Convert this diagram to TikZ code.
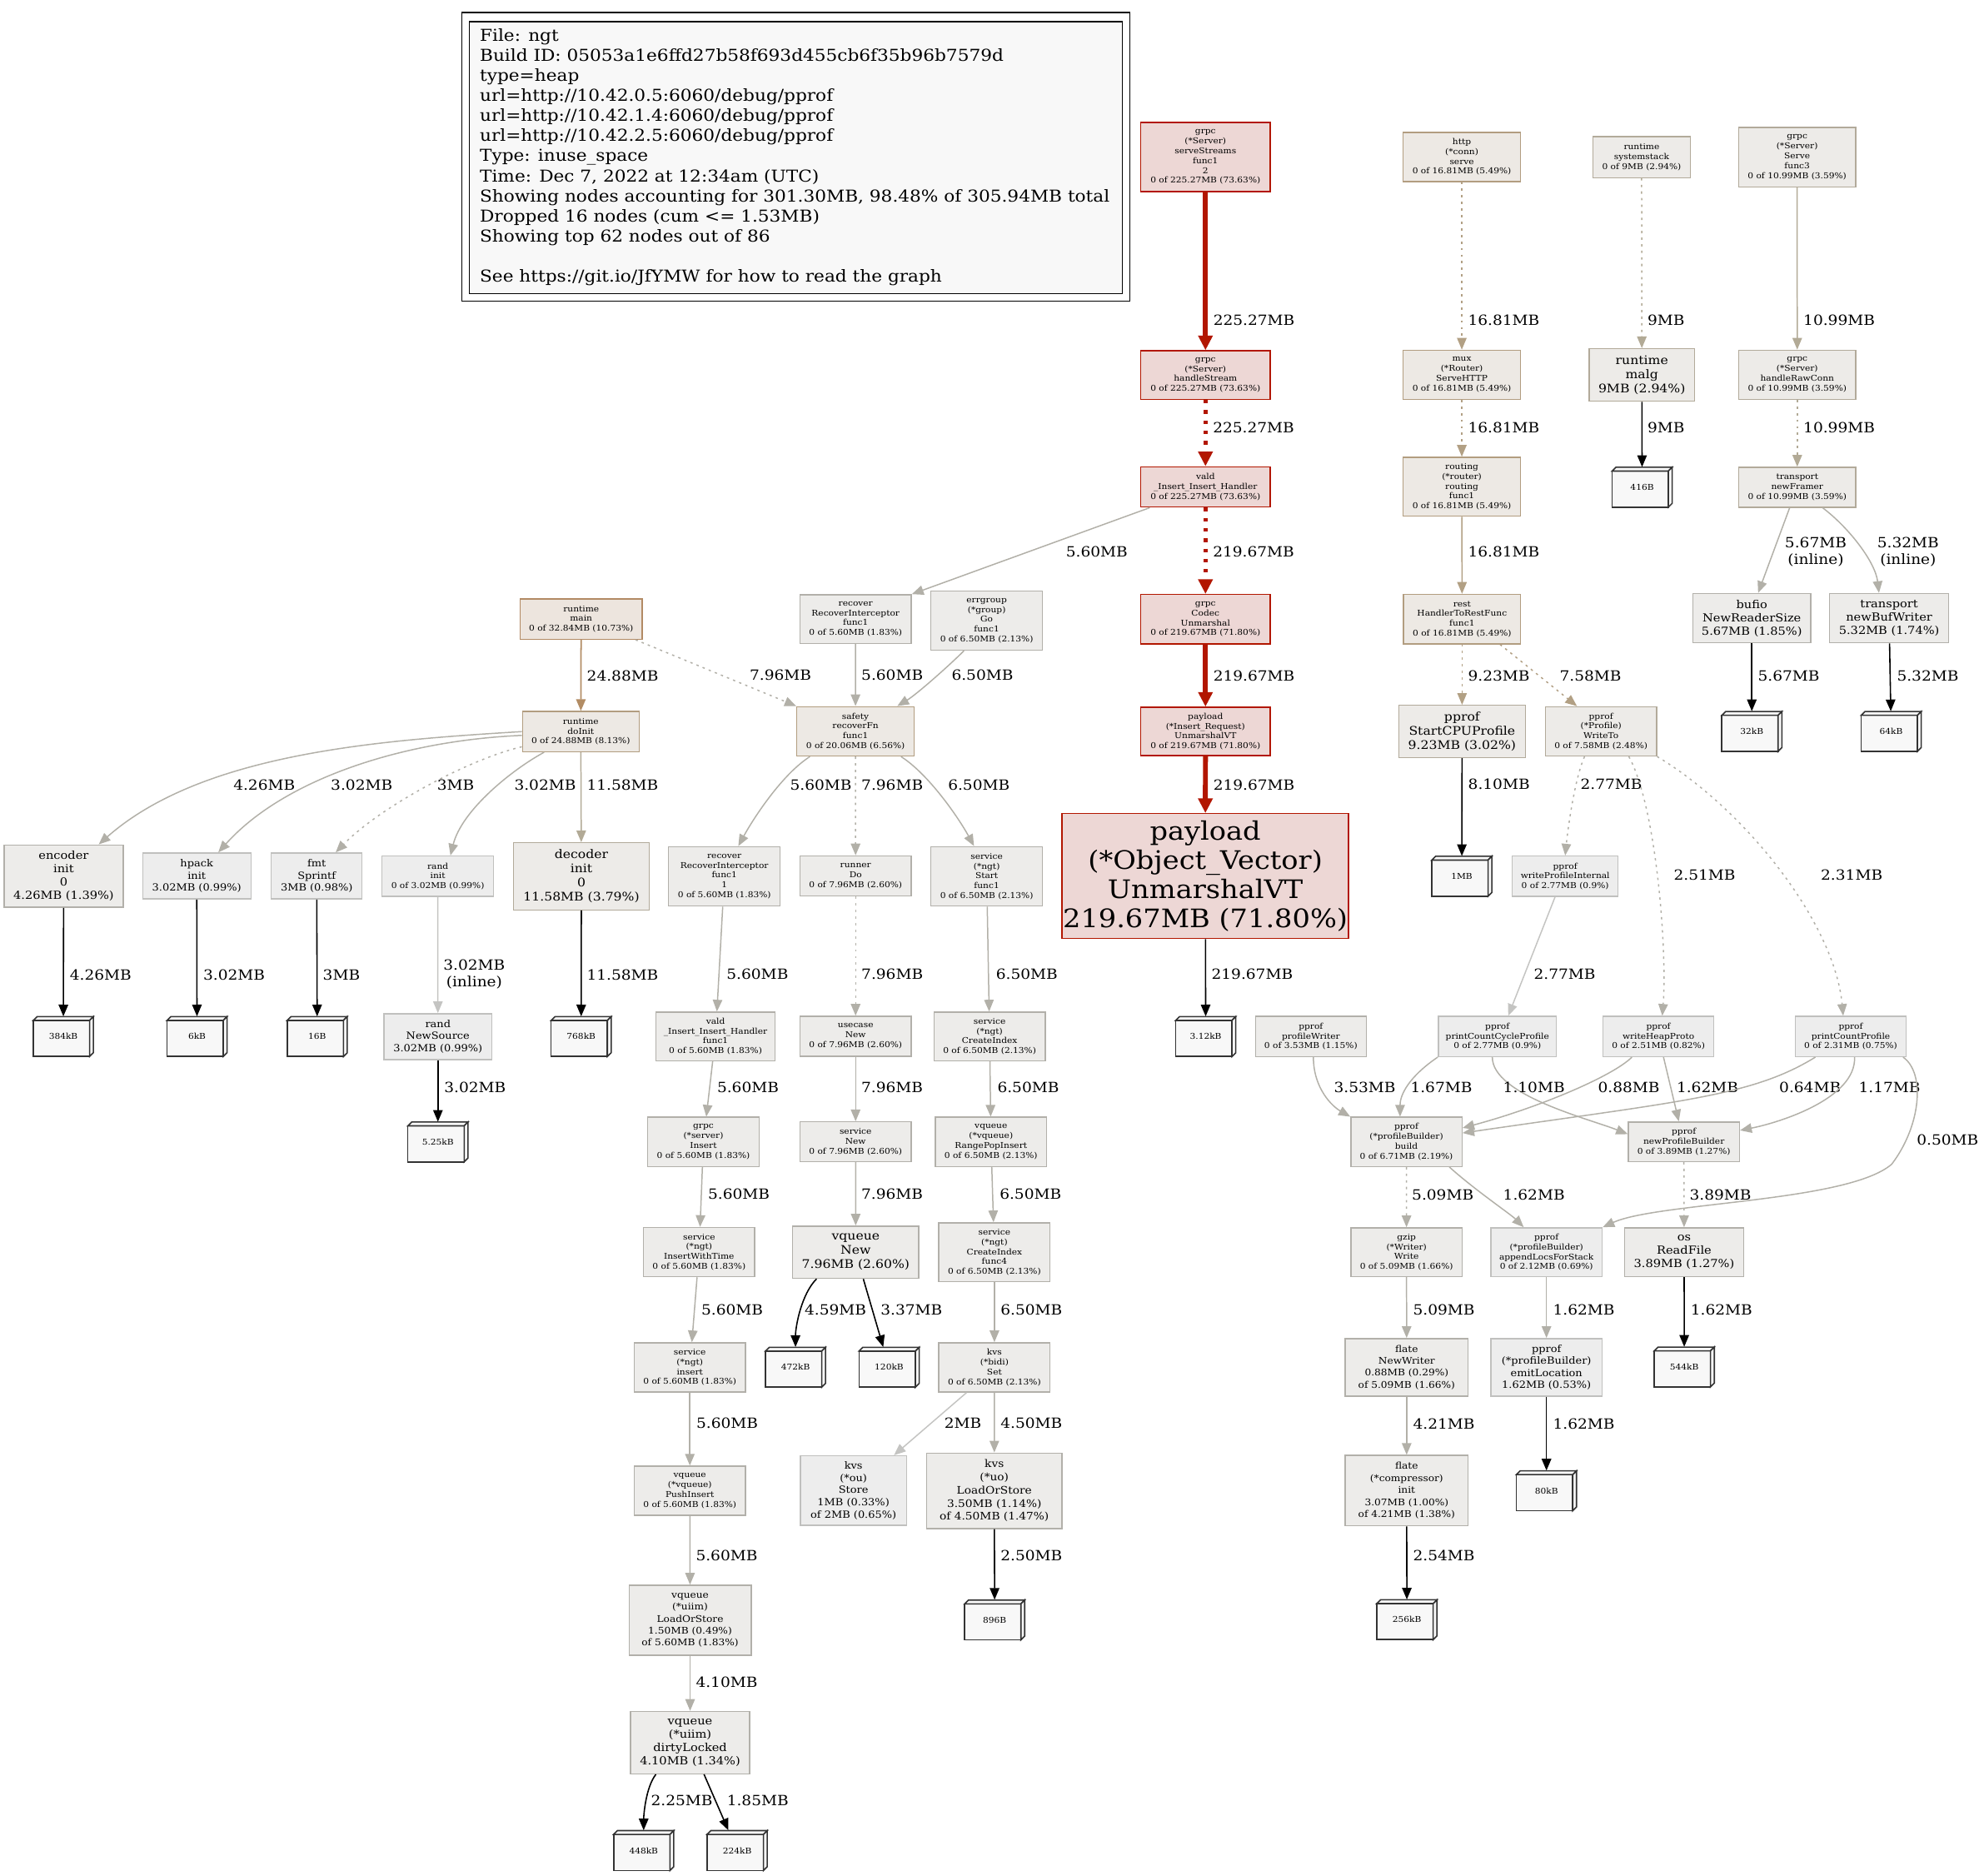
\documentclass[tikz,border=0pt]{standalone}
\usepackage{fontspec}
\setmainfont{DejaVu Serif}[FakeStretch=1.1]
\usepackage{xcolor}
\usepackage{tikz}
\usetikzlibrary{arrows.meta}
\definecolor{hotred}{RGB}{178,22,0}
\definecolor{hotfill}{RGB}{237,215,213}
\definecolor{tanA}{RGB}{178,138,100}
\definecolor{fillA}{RGB}{237,229,222}
\definecolor{tanB}{RGB}{178,157,128}
\definecolor{fillB}{RGB}{237,233,228}
\definecolor{tanC}{RGB}{178,170,154}
\definecolor{fillC}{RGB}{237,235,232}
\definecolor{grayA}{RGB}{178,176,170}
\definecolor{fillD}{RGB}{237,236,234}
\definecolor{grayB}{RGB}{192,192,190}
\definecolor{fillE}{RGB}{237,237,237}
\definecolor{etanA}{RGB}{178,140,100}
\definecolor{etanB}{RGB}{178,160,132}
\definecolor{etanC}{RGB}{178,170,150}
\definecolor{egray}{RGB}{178,176,168}
\definecolor{elight}{RGB}{196,196,194}
\definecolor{cubefill}{RGB}{248,248,248}
\definecolor{legfill}{RGB}{248,248,248}
\newlength{\gpx}
\setlength{\gpx}{0.3038mm}

\begin{document}
\begin{tikzpicture}[x=0.3038mm, y=-0.3038mm,
    fn/.style={rectangle, draw, line width=0.8pt, inner sep=0pt, align=center},
    hot/.style={fn, draw=hotred, fill=hotfill},
    tana/.style={fn, draw=tanA, fill=fillA},
    tanb/.style={fn, draw=tanB, fill=fillB},
    tanc/.style={fn, draw=tanC, fill=fillC},
    gry/.style={fn, draw=grayA, fill=fillD},
    lgt/.style={fn, draw=grayB, fill=fillE},
    sz/.style 2 args={minimum width=#1\gpx, minimum height=#2\gpx},
    f0/.style={font=\fontsize{5.5}{6.7}\selectfont},
    f1/.style={font=\fontsize{6.3}{8.2}\selectfont},
    f2/.style={font=\fontsize{6.7}{8.3}\selectfont},
    f3/.style={font=\fontsize{7.1}{9}\selectfont},
    f4/.style={font=\fontsize{7.55}{9.1}\selectfont},
    f5/.style={font=\fontsize{8.1}{9.7}\selectfont},
    f6/.style={font=\fontsize{17.4}{19.9}\selectfont},
    cubebox/.style={rectangle, inner sep=0pt, minimum width=47.5\gpx, minimum height=31.5\gpx, font=\fontsize{5.5}{6.5}\selectfont},
    cubeline/.style={draw=black!80, fill=cubefill, line width=0.9pt},
    legbox/.style={rectangle, draw=black, line width=0.9pt, inner sep=0pt},
    legtext/.style={font=\fontsize{11.2}{13.7}\selectfont, align=left, inner sep=0pt},
    lbl/.style={font=\fontsize{9.6}{11.6}\selectfont, anchor=west, inner sep=0pt},
    lbl2/.style={font=\fontsize{9.6}{11.6}\selectfont, anchor=center, align=center, inner sep=0pt},
    arr/.style={-{Triangle[length=8pt,width=6.5pt]}},
    hotline/.style={draw=hotred, line width=3.4pt, -{Triangle[length=10pt,width=9.5pt]}},
    hotdots/.style={hotline, line width=2.8pt, dash pattern=on 2.4pt off 4.6pt},
    mainline/.style={arr, draw=etanA, line width=1pt},
    tanline/.style={arr, draw=etanB, line width=0.85pt},
    tanpale/.style={arr, draw=etanC, line width=0.85pt},
    grayline/.style={arr, draw=egray, line width=0.85pt},
    paleline/.style={arr, draw=elight, line width=0.85pt},
    alloc/.style={arr, draw=black, line width=0.9pt},
    dotline/.style={dash pattern=on 1.6pt off 2.9pt}
]
\useasboundingbox (0,0) rectangle (1568,1482);

% Legend
\node[legbox, minimum width=528\gpx, minimum height=228\gpx] (legOuter) at (629,124) {};
\node[legbox, fill=legfill, minimum width=516\gpx, minimum height=215\gpx] (legInner) at (629,124.5) {};
\node[legtext, anchor=north west] (legText) at (379,22.5) {File: ngt\\
Build ID: 05053a1e6ffd27b58f693d455cb6f35b96b7579d\\
type=heap\\
url=http://10.42.0.5:6060/debug/pprof\\
url=http://10.42.1.4:6060/debug/pprof\\
url=http://10.42.2.5:6060/debug/pprof\\
Type: inuse\_space\\
Time: Dec 7, 2022 at 12:34am (UTC)\\
Showing nodes accounting for 301.30MB, 98.48\% of 305.94MB total\\
Dropped 16 nodes (cum <= 1.53MB)\\
Showing top 62 nodes out of 86\\[13.7pt]
See https://git.io/JfYMW for how to read the graph};

% Hot path
\node[hot, f0, sz={102.4}{54.7}] (sStreams) at (952.7,124.1) {grpc\\(*Server)\\serveStreams\\func1\\2\\0 of 225.27MB (73.63\%)};
\node[hot, f0, sz={102.4}{38.4}] (hStream) at (952.7,296.4) {grpc\\(*Server)\\handleStream\\0 of 225.27MB (73.63\%)};
\node[hot, f0, sz={102.4}{31.8}] (insHandler) at (952.7,384.8) {vald\\\_Insert\_Insert\_Handler\\0 of 225.27MB (73.63\%)};
\node[hot, f0, sz={102.4}{39}] (codec) at (952.7,489.3) {grpc\\Codec\\Unmarshal\\0 of 219.67MB (71.80\%)};
\node[hot, f0, sz={102.4}{38.2}] (reqVT) at (952.7,578) {payload\\(*Insert\_Request)\\UnmarshalVT\\0 of 219.67MB (71.80\%)};
\node[hot, f6, sz={226.4}{98.7}] (vecVT) at (952.6,692.3) {payload\\(*Object\_Vector)\\UnmarshalVT\\219.67MB (71.80\%)};

% Top right
\node[tanb, f0, sz={93}{38.8}] (httpServe) at (1155.3,124) {http\\(*conn)\\serve\\0 of 16.81MB (5.49\%)};
\node[tanc, f0, sz={76.7}{32.3}] (sysStack) at (1297.4,124.2) {runtime\\systemstack\\0 of 9MB (2.94\%)};
\node[tanc, f0, sz={92.7}{46.8}] (srvServe) at (1420.3,124.2) {grpc\\(*Server)\\Serve\\func3\\0 of 10.99MB (3.59\%)};
\node[tanb, f0, sz={93}{38.7}] (muxServe) at (1155.3,296.1) {mux\\(*Router)\\ServeHTTP\\0 of 16.81MB (5.49\%)};
\node[tanc, f5, sz={83.5}{41.4}] (malg) at (1297.6,296.3) {runtime\\malg\\9MB (2.94\%)};
\node[tanc, f0, sz={92.6}{38.7}] (rawConn) at (1420.4,296.1) {grpc\\(*Server)\\handleRawConn\\0 of 10.99MB (3.59\%)};
\node[tanb, f0, sz={93}{46.5}] (routing) at (1155.3,384.6) {routing\\(*router)\\routing\\func1\\0 of 16.81MB (5.49\%)};
\node[tanc, f0, sz={92.6}{31.5}] (framer) at (1420.4,385) {transport\\newFramer\\0 of 10.99MB (3.59\%)};
\node[tanb, f0, sz={92.4}{39.1}] (restFunc) at (1155.5,489.2) {rest\\HandlerToRestFunc\\func1\\0 of 16.81MB (5.49\%)};
\node[gry, f4, sz={93}{39}] (bufio) at (1384.5,488.5) {bufio\\NewReaderSize\\5.67MB (1.85\%)};
\node[gry, f4, sz={94}{39}] (bufWriter) at (1493,488.5) {transport\\newBufWriter\\5.32MB (1.74\%)};
\node[tanc, f5, sz={100}{41.2}] (cpuProf) at (1155.5,578) {pprof\\StartCPUProfile\\9.23MB (3.02\%)};
\node[tanc, f0, sz={87.8}{38.9}] (writeTo) at (1265.3,577.9) {pprof\\(*Profile)\\WriteTo\\0 of 7.58MB (2.48\%)};
\node[lgt, f0, sz={83.6}{31.8}] (wpInternal) at (1237,692.4) {pprof\\writeProfileInternal\\0 of 2.77MB (0.9\%)};
\node[gry, f0, sz={87.6}{31.8}] (profWriter) at (1036,819) {pprof\\profileWriter\\0 of 3.53MB (1.15\%)};
\node[lgt, f0, sz={93.4}{31.8}] (pccProfile) at (1183.4,819) {pprof\\printCountCycleProfile\\0 of 2.77MB (0.9\%)};
\node[lgt, f0, sz={87.7}{31.8}] (heapProto) at (1310.7,819) {pprof\\writeHeapProto\\0 of 2.51MB (0.82\%)};
\node[lgt, f0, sz={87.8}{31.8}] (pcProfile) at (1462.7,819) {pprof\\printCountProfile\\0 of 2.31MB (0.75\%)};
\node[gry, f0, sz={87.8}{38.9}] (pbBuild) at (1111.5,902.3) {pprof\\(*profileBuilder)\\build\\0 of 6.71MB (2.19\%)};
\node[gry, f0, sz={87.8}{31.3}] (newPB) at (1330.8,902.2) {pprof\\newProfileBuilder\\0 of 3.89MB (1.27\%)};
\node[gry, f0, sz={87.9}{38.6}] (gzipWrite) at (1111.6,989.5) {gzip\\(*Writer)\\Write\\0 of 5.09MB (1.66\%)};
\node[lgt, f0, sz={88}{38.6}] (appendLocs) at (1222.2,989.5) {pprof\\(*profileBuilder)\\appendLocsForStack\\0 of 2.12MB (0.69\%)};
\node[gry, f4, sz={93.9}{38.6}] (readFile) at (1331,989.5) {os\\ReadFile\\3.89MB (1.27\%)};
\node[gry, f1, sz={97.2}{45.6}] (nwFlate) at (1111.7,1080.5) {flate\\NewWriter\\0.88MB (0.29\%)\\of 5.09MB (1.66\%)};
\node[lgt, f2, sz={88}{45.6}] (emitLoc) at (1222.2,1080.5) {pprof\\(*profileBuilder)\\emitLocation\\1.62MB (0.53\%)};
\node[gry, f1, sz={97.2}{55.7}] (compInit) at (1111.7,1177.9) {flate\\(*compressor)\\init\\3.07MB (1.00\%)\\of 4.21MB (1.38\%)};

% Left
\node[tana, f0, sz={96.2}{31.8}] (rtMain) at (459.3,489.2) {runtime\\main\\0 of 32.84MB (10.73\%)};
\node[tanb, f0, sz={92.2}{31.8}] (doInit) at (459,578.1) {runtime\\doInit\\0 of 24.88MB (8.13\%)};
\node[gry, f4, sz={94.2}{49.2}] (encInit) at (50.3,692.3) {encoder\\init\\0\\4.26MB (1.39\%)};
\node[lgt, f2, sz={85.6}{36.3}] (hpackInit) at (155.5,692.2) {hpack\\init\\3.02MB (0.99\%)};
\node[lgt, f2, sz={71.7}{36.3}] (sprintf) at (250.3,692.2) {fmt\\Sprintf\\3MB (0.98\%)};
\node[lgt, f0, sz={88}{31.8}] (randInit) at (346,692.4) {rand\\init\\0 of 3.02MB (0.99\%)};
\node[tanc, f5, sz={107}{53}] (decInit) at (459.5,692.5) {decoder\\init\\0\\11.58MB (3.79\%)};
\node[lgt, f2, sz={85.2}{36.2}] (newSource) at (346.1,819.1) {rand\\NewSource\\3.02MB (0.99\%)};

% Middle
\node[gry, f0, sz={88}{38.5}] (recTop) at (676.2,489.2) {recover\\RecoverInterceptor\\func1\\0 of 5.60MB (1.83\%)};
\node[gry, f0, sz={88}{46.6}] (errGo) at (779.8,490.5) {errgroup\\(*group)\\Go\\func1\\0 of 6.50MB (2.13\%)};
\node[tanb, f0, sz={92.6}{39}] (recoverFn) at (676.1,577.9) {safety\\recoverFn\\func1\\0 of 20.06MB (6.56\%)};
\node[gry, f0, sz={88.2}{46.9}] (recFunc) at (572.5,692.5) {recover\\RecoverInterceptor\\func1\\1\\0 of 5.60MB (1.83\%)};
\node[gry, f0, sz={88}{31.7}] (runnerDo) at (676.2,692.2) {runner\\Do\\0 of 7.96MB (2.60\%)};
\node[gry, f0, sz={88}{46.9}] (ngtStart) at (779.8,692.5) {service\\(*ngt)\\Start\\func1\\0 of 6.50MB (2.13\%)};
\node[gry, f0, sz={94.3}{38.5}] (insFunc) at (565.5,819) {vald\\\_Insert\_Insert\_Handler\\func1\\0 of 5.60MB (1.83\%)};
\node[gry, f0, sz={88}{31.5}] (usecaseNew) at (676.2,818.8) {usecase\\New\\0 of 7.96MB (2.60\%)};
\node[gry, f0, sz={87.8}{38.5}] (createIdx) at (782.1,819) {service\\(*ngt)\\CreateIndex\\0 of 6.50MB (2.13\%)};
\node[gry, f0, sz={87.9}{38.9}] (srvInsert) at (555.9,902.3) {grpc\\(*server)\\Insert\\0 of 5.60MB (1.83\%)};
\node[gry, f0, sz={88}{31.4}] (svcNew) at (676.2,902.2) {service\\New\\0 of 7.96MB (2.60\%)};
\node[gry, f0, sz={88}{38.9}] (rangePop) at (783.2,902.3) {vqueue\\(*vqueue)\\RangePopInsert\\0 of 6.50MB (2.13\%)};
\node[gry, f0, sz={87.9}{38.9}] (insTime) at (552.5,989.4) {service\\(*ngt)\\InsertWithTime\\0 of 5.60MB (1.83\%)};
\node[gry, f5, sz={99.7}{41.3}] (vqNew) at (676.3,989.5) {vqueue\\New\\7.96MB (2.60\%)};
\node[gry, f0, sz={87.9}{46.5}] (idxFunc4) at (785.9,989.5) {service\\(*ngt)\\CreateIndex\\func4\\0 of 6.50MB (2.13\%)};
\node[gry, f0, sz={88}{38.9}] (ngtInsert) at (545.2,1080.5) {service\\(*ngt)\\insert\\0 of 5.60MB (1.83\%)};
\node[gry, f0, sz={87.9}{38.9}] (bidiSet) at (785.9,1080.5) {kvs\\(*bidi)\\Set\\0 of 6.50MB (2.13\%)};
\node[gry, f0, sz={88}{38.9}] (pushIns) at (545.2,1178) {vqueue\\(*vqueue)\\PushInsert\\0 of 5.60MB (1.83\%)};
\node[lgt, f2, sz={83.7}{55}] (ouStore) at (674.5,1177.9) {kvs\\(*ou)\\Store\\1MB (0.33\%)\\of 2MB (0.65\%)};
\node[gry, f3, sz={107.2}{59.6}] (uoLoad) at (785.8,1178) {kvs\\(*uo)\\LoadOrStore\\3.50MB (1.14\%)\\of 4.50MB (1.47\%)};
\node[gry, f1, sz={96.5}{55.3}] (uiimLoad) at (545.4,1280.3) {vqueue\\(*uiim)\\LoadOrStore\\1.50MB (0.49\%)\\of 5.60MB (1.83\%)};
\node[gry, f4, sz={94.2}{49.2}] (dirtyLk) at (545.4,1377) {vqueue\\(*uiim)\\dirtyLocked\\4.10MB (1.34\%)};

% Allocation boxes
\foreach \nm/\cx/\cy/\txt in {c312/952.9/819.1/3.12kB, c416/1297.8/385/416B, c32/1384.5/578/32kB,
    c64/1494.6/578/64kB, c1MB/1155.3/692.4/1MB, c544/1331.1/1080.2/544kB, c80/1222.2/1178/80kB,
    c256/1111.9/1279.9/256kB, c384/50.05/819.1/384kB, c6/155.7/819.1/6kB, c16/250.7/819.1/16B,
    c768/459.3/819.1/768kB, c525/346.1/902.4/5.25kB, c472/628.7/1080.4/472kB, c120/702.7/1080.4/120kB,
    c896/786.1/1280.1/896B, c448/508.7/1462.3/448kB, c224/582.6/1462.3/224kB}{
  \filldraw[cubeline] (\cx-23.75,\cy-12.75) rectangle (\cx+20.75,\cy+15.75);
  \filldraw[cubeline] (\cx-23.75,\cy-12.75) -- (\cx-20.75,\cy-15.75) -- (\cx+23.75,\cy-15.75) -- (\cx+20.75,\cy-12.75) -- cycle;
  \filldraw[cubeline] (\cx+20.75,\cy-12.75) -- (\cx+23.75,\cy-15.75) -- (\cx+23.75,\cy+12.75) -- (\cx+20.75,\cy+15.75) -- cycle;
  \node[cubebox] (\nm) at (\cx,\cy) {\txt};
}

% Hot path edges
\draw[hotline] (sStreams) -- (hStream) node[lbl] at (957,253) {225.27MB};
\draw[hotdots] (hStream) -- (insHandler) node[lbl] at (957,338) {225.27MB};
\draw[hotdots] (insHandler) -- (codec) node[lbl] at (957,436) {219.67MB};
\draw[hotline] (codec) -- (reqVT) node[lbl] at (957,534) {219.67MB};
\draw[hotline] (reqVT) -- (vecVT) node[lbl] at (957,620) {219.67MB};
\draw[alloc] (vecVT) -- (c312) node[lbl] at (957,770) {219.67MB};
\draw[grayline] ([xshift=-44\gpx]insHandler.south) -- (recTop.north east) node[lbl] at (842,436) {5.60MB};

% Top right edges
\draw[tanline, dotline] (httpServe) -- (muxServe) node[lbl] at (1159.7,252.7) {16.81MB};
\draw[tanline, dotline] (muxServe) -- (routing) node[lbl] at (1159.7,337.8) {16.81MB};
\draw[tanline] (routing) -- (restFunc) node[lbl] at (1159.7,435.9) {16.81MB};
\draw[tanline, dotline] (restFunc) -- (cpuProf) node[lbl] at (1159.8,534.1) {9.23MB};
\draw[tanline, dotline] ([xshift=30\gpx]restFunc.south) -- ([xshift=-19\gpx]writeTo.north) node[lbl] at (1232.2,534.1) {7.58MB};
\draw[tanpale, dotline] (sysStack) -- (malg) node[lbl] at (1301.6,252.7) {9MB};
\draw[alloc] (malg) -- (c416) node[lbl] at (1301.6,337.8) {9MB};
\draw[tanpale] (srvServe) -- (rawConn) node[lbl] at (1424.8,252.7) {10.99MB};
\draw[tanpale, dotline] (rawConn) -- (framer) node[lbl] at (1424.8,337.8) {10.99MB};
\draw[grayline] ([xshift=-6\gpx]framer.south) -- ([xshift=5\gpx]bufio.north) node[lbl2] at (1435,436.3) {5.67MB\\(inline)};
\draw[grayline] ([xshift=20\gpx]framer.south) .. controls +(20,15) and +(-3,-25) .. ([xshift=-8\gpx]bufWriter.north) node[lbl2] at (1508,436.3) {5.32MB\\(inline)};
\draw[alloc] (bufio) -- (c32) node[lbl] at (1388.8,534.1) {5.67MB};
\draw[alloc] (bufWriter) -- (c64) node[lbl] at (1498.7,534.1) {5.32MB};
\draw[alloc] (cpuProf) -- (c1MB) node[lbl] at (1159.8,619.5) {8.10MB};

% Profile writer edges
\draw[grayline, dotline] ([xshift=-13\gpx]writeTo.south) .. controls +(-8,18) and +(2,-20) .. (wpInternal.north) node[lbl] at (1248.6,619.5) {2.77MB};
\draw[grayline, dotline] ([xshift=22\gpx]writeTo.south) .. controls +(22,40) and +(4,-50) .. ([xshift=3\gpx]heapProto.north) node[lbl] at (1322.4,691.3) {2.51MB};
\draw[grayline, dotline] (writeTo.south east) .. controls (1380,640) and (1450,730) .. ([xshift=-6\gpx]pcProfile.north) node[lbl] at (1438.6,691.3) {2.31MB};
\draw[paleline] ([xshift=-8\gpx]wpInternal.south) -- ([xshift=8.6\gpx]pccProfile.north) node[lbl] at (1211.8,769.8) {2.77MB};
\draw[grayline] ([xshift=2\gpx]profWriter.south) .. controls +(0,25) and +(-14,-8) .. (pbBuild.north west) node[lbl] at (1053.8,859.1) {3.53MB};
\draw[grayline] (pccProfile.south west) .. controls +(-22,15) and +(0,-18) .. ([xshift=-5\gpx]pbBuild.north) node[lbl] at (1114.3,859.1) {1.67MB};
\draw[grayline] ([xshift=-4\gpx]pccProfile.south) .. controls +(0,30) and +(-30,-12) .. ([yshift=6\gpx]newPB.west) node[lbl] at (1187.5,859.1) {1.10MB};
\draw[grayline] ([xshift=-21\gpx]heapProto.south) .. controls +(-15,15) and +(60,-16) .. ([yshift=11\gpx]pbBuild.east) node[lbl] at (1262.5,859.1) {0.88MB};
\draw[grayline] ([xshift=4\gpx]heapProto.south) -- ([xshift=-4\gpx]newPB.north) node[lbl] at (1324.6,859.1) {1.62MB};
\draw[grayline] ([xshift=-28\gpx]pcProfile.south) .. controls (1385,866) and (1330,870) .. ([yshift=7\gpx]pbBuild.east) node[lbl] at (1405.7,859.1) {0.64MB};
\draw[grayline] ([xshift=3\gpx]pcProfile.south) .. controls (1467,868) and (1406.7,887) .. ([yshift=9\gpx]newPB.east) node[lbl] at (1468.5,859.1) {1.17MB};
\draw[grayline] ([xshift=-3\gpx]pcProfile.south east) .. controls (1522,848) and (1518,890) .. (1495,920) .. controls (1460,950) and (1310,950) .. (appendLocs.north east) node[lbl] at (1514.4,900.8) {0.50MB};
\draw[grayline, dotline] (pbBuild) -- (gzipWrite) node[lbl] at (1115.4,943.9) {5.09MB};
\draw[grayline] ([xshift=34\gpx]pbBuild.south) .. controls +(20,18) and +(-10,-10) .. ([xshift=-18\gpx]appendLocs.north) node[lbl] at (1187.5,943.9) {1.62MB};
\draw[grayline, dotline] (newPB) -- (readFile) node[lbl] at (1334.9,943.9) {3.89MB};
\draw[grayline] (gzipWrite) -- (nwFlate) node[lbl] at (1116.3,1034.8) {5.09MB};
\draw[grayline] (appendLocs) -- (emitLoc) node[lbl] at (1226.9,1034.8) {1.62MB};
\draw[alloc] (readFile) -- (c544) node[lbl] at (1335.7,1034.8) {1.62MB};
\draw[grayline] (nwFlate) -- (compInit) node[lbl] at (1116.3,1125) {4.21MB};
\draw[alloc] (emitLoc) -- (c80) node[lbl] at (1226.9,1125) {1.62MB};
\draw[alloc] (compInit) -- (c256) node[lbl] at (1116.3,1229.5) {2.54MB};

% Left edges
\draw[mainline] (rtMain) -- (doInit) node[lbl] at (463.3,534) {24.88MB};
\draw[grayline, dotline] ([xshift=43\gpx]rtMain.south) -- (recoverFn.north west) node[lbl] at (592,533.6) {7.96MB};
\draw[grayline] (doInit.west) .. controls (300,585) and (160,595) .. ([xshift=27.7\gpx]encInit.north) node[lbl] at (184,620) {4.26MB};
\draw[grayline] ([yshift=-3\gpx]doInit.west) .. controls (320,585) and (225,615) .. ([xshift=17\gpx]hpackInit.north) node[lbl] at (261,620) {3.02MB};
\draw[grayline, dotline] ([yshift=-12\gpx]doInit.west) .. controls (370,600) and (300,638) .. ([xshift=15\gpx]sprintf.north) node[lbl] at (345,620) {3MB};
\draw[grayline] ([xshift=-29\gpx]doInit.south) .. controls (405,608) and (365,640) .. ([xshift=10\gpx]randInit.north) node[lbl] at (406,620) {3.02MB};
\draw[tanpale] (doInit) -- (decInit) node[lbl] at (463.3,620) {11.58MB};
\draw[alloc] (encInit) -- (c384) node[lbl] at (54.7,770.2) {4.26MB};
\draw[alloc] (hpackInit) -- (c6) node[lbl] at (160.2,770.2) {3.02MB};
\draw[alloc] (sprintf) -- (c16) node[lbl] at (254.7,770.2) {3MB};
\draw[paleline] (randInit) -- (newSource) node[lbl2] at (374.8,770) {3.02MB\\(inline)};
\draw[alloc] (decInit) -- (c768) node[lbl] at (463.3,770.2) {11.58MB};
\draw[alloc] (newSource) -- (c525) node[lbl] at (350.6,859.1) {3.02MB};

% Middle edges
\draw[grayline] (recTop) -- (recoverFn) node[lbl] at (680.3,533.6) {5.60MB};
\draw[grayline] ([xshift=-18\gpx]errGo.south) .. controls +(-12,12) and +(15,-9) .. ([xshift=33\gpx]recoverFn.north) node[lbl] at (751.6,533.6) {6.50MB};
\draw[grayline] ([xshift=-36\gpx]recoverFn.south) .. controls +(-22,14) and +(12,-22) .. ([xshift=11\gpx]recFunc.north) node[lbl] at (623.9,620) {5.60MB};
\draw[grayline, dotline] (recoverFn) -- (runnerDo) node[lbl] at (680.3,620) {7.96MB};
\draw[grayline] ([xshift=36\gpx]recoverFn.south) .. controls +(22,14) and +(-12,-22) .. ([xshift=-10\gpx]ngtStart.north) node[lbl] at (748.8,620) {6.50MB};
\draw[grayline] (recFunc) -- (insFunc) node[lbl] at (573.8,769.7) {5.60MB};
\draw[grayline, dotline] (runnerDo) -- (usecaseNew) node[lbl] at (680.3,769.7) {7.96MB};
\draw[grayline] (ngtStart) -- (createIdx) node[lbl] at (786.7,769.7) {6.50MB};
\draw[grayline] (insFunc) -- (srvInsert) node[lbl] at (566.3,859.1) {5.60MB};
\draw[grayline] (usecaseNew) -- (svcNew) node[lbl] at (680.2,859.1) {7.96MB};
\draw[grayline] (createIdx) -- (rangePop) node[lbl] at (787.8,859.1) {6.50MB};
\draw[grayline] (srvInsert) -- (insTime) node[lbl] at (559.1,943.2) {5.60MB};
\draw[grayline] (svcNew) -- (vqNew) node[lbl] at (680.2,943.2) {7.96MB};
\draw[grayline] (rangePop) -- (idxFunc4) node[lbl] at (789.6,943.2) {6.50MB};
\draw[grayline] (insTime) -- (ngtInsert) node[lbl] at (553.8,1034.7) {5.60MB};
\draw[alloc] ([xshift=-31\gpx]vqNew.south) .. controls +(-12,12) and +(0,-16) .. (c472.north) node[lbl] at (635.4,1034.7) {4.59MB};
\draw[alloc] ([xshift=6\gpx]vqNew.south) -- (c120) node[lbl] at (695.5,1034.7) {3.37MB};
\draw[grayline] (idxFunc4) -- (bidiSet) node[lbl] at (790.3,1034.7) {6.50MB};
\draw[grayline] (ngtInsert) -- (pushIns) node[lbl] at (549.9,1124.6) {5.60MB};
\draw[paleline] ([xshift=-22\gpx]bidiSet.south) -- ([xshift=32\gpx]ouStore.north) node[lbl] at (745.9,1124.6) {2MB};
\draw[grayline] (bidiSet) -- (uoLoad) node[lbl] at (790.3,1124.6) {4.50MB};
\draw[grayline] (pushIns) -- (uiimLoad) node[lbl] at (549.5,1229.3) {5.60MB};
\draw[alloc] (uoLoad) -- (c896) node[lbl] at (790.3,1229.3) {2.50MB};
\draw[grayline] (uiimLoad) -- (dirtyLk) node[lbl] at (549.5,1329.4) {4.10MB};
\draw[alloc] ([xshift=-27\gpx]dirtyLk.south) .. controls +(-8,10) and +(0,-12) .. (c448.north) node[lbl] at (514,1423) {2.25MB};
\draw[alloc] ([xshift=11\gpx]dirtyLk.south) -- (c224) node[lbl] at (574,1423) {1.85MB};

\end{tikzpicture}
\end{document}
